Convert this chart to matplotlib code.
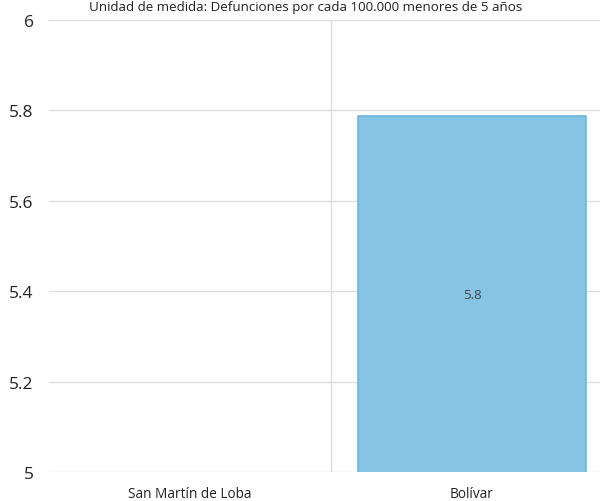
import numpy as np
import matplotlib
matplotlib.use("Agg")
import matplotlib.pyplot as plt

categories = ["San Martín de Loba", "Bolívar"]
values = [np.nan, 5.787]
value_labels = ["", "5.8"]
yticks = [5, 5.2, 5.4, 5.6, 5.8, 6]
ytick_labels = ["5", "5.2", "5.4", "5.6", "5.8", "6"]
title = "Unidad de medida: Defunciones por cada 100.000 menores de 5 años"

plt.rcParams['font.family'] = ['Open Sans', 'DejaVu Sans']

fig = plt.figure(figsize=(6.0, 5.02), dpi=100)
ax = fig.add_axes([49/600, 1-473/502, 564/600, 452/502])

x = np.arange(len(categories))
ax.bar(x, values, width=0.805, bottom=0, color="#86c4e3", edgecolor="#6db6dc",
       linewidth=1.2, zorder=3)
for xi, v, lab in zip(x, values, value_labels):
    if not np.isnan(v) and lab:
        ax.text(xi, (5 + v) / 2, lab, ha="center", va="center", fontsize=9.5,
                color="#444444", zorder=4)

ax.set_ylim(5, 6)
ax.set_xlim(-0.5, 1.5)
ax.set_yticks(yticks)
ax.set_yticklabels(ytick_labels, fontsize=12.5, color="#222222")
ax.set_xticks(x)
ax.set_xticklabels(categories, fontsize=9.8, color="#222222")
ax.tick_params(axis="both", length=0)
ax.tick_params(axis="y", pad=11)
ax.tick_params(axis="x", pad=10)

ax.grid(axis="y", color="#dddddd", linewidth=1, zorder=0)
ax.set_xticks([0.5, 1.5], minor=True)
ax.grid(axis="x", which="minor", color="#dddddd", linewidth=1, zorder=0)
ax.tick_params(axis="x", which="minor", length=0)
for s in ax.spines.values():
    s.set_visible(False)

fig.text(306/600, 1-7/502, title, ha="center", va="center", fontsize=9.6, color="#222222")

fig.savefig("out.png", dpi=100)
